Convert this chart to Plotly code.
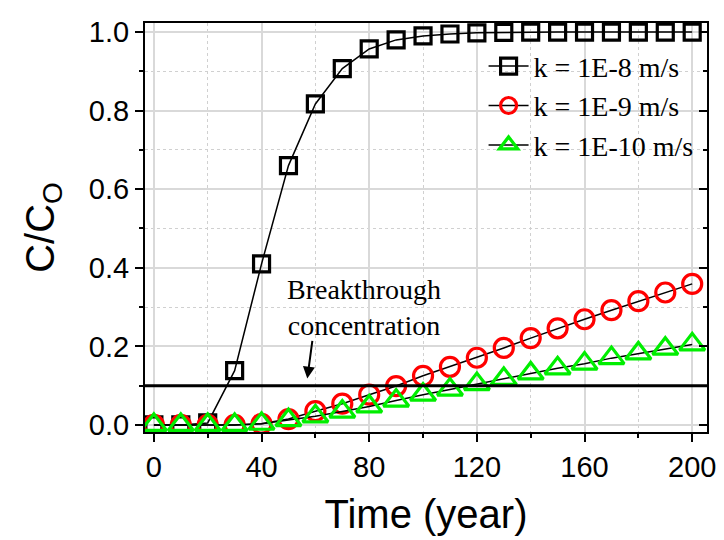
import plotly.graph_objects as go

time = [0, 10, 20, 30, 40, 50, 60, 70, 80, 90, 100, 110, 120, 130, 140, 150, 160, 170, 180, 190, 200]
k1e8 = [0.0, 0.0, 0.005, 0.138, 0.41, 0.66, 0.817, 0.907, 0.957, 0.98, 0.99, 0.995, 0.998, 0.999, 1.0, 1.0, 1.0, 1.0, 1.0, 1.0, 1.0]
k1e9 = [0.0, 0.0, 0.0, 0.0, 0.003, 0.015, 0.035, 0.054, 0.077, 0.099, 0.125, 0.148, 0.171, 0.196, 0.221, 0.246, 0.269, 0.292, 0.315, 0.337, 0.359]
k1e10 = [0.0, 0.0, 0.0, 0.0, 0.003, 0.012, 0.022, 0.034, 0.047, 0.062, 0.077, 0.09, 0.104, 0.117, 0.131, 0.144, 0.156, 0.17, 0.182, 0.194, 0.205]
names = ["k = 1E-8 m/s", "k = 1E-9 m/s", "k = 1E-10 m/s"]
breakthrough = 0.1

fig = go.Figure()
fig.add_trace(go.Scatter(x=time, y=k1e8, mode="lines+markers", name=names[0],
                         line=dict(color="black", width=1.5),
                         marker=dict(symbol="square-open", size=16, color="black", line=dict(width=3.2))))
fig.add_trace(go.Scatter(x=time, y=k1e9, mode="lines+markers", name=names[1],
                         line=dict(color="black", width=1.5),
                         marker=dict(symbol="circle-open", size=19, color="#ff0000", line=dict(width=3.2))))
fig.add_trace(go.Scatter(x=time, y=k1e10, mode="lines+markers", name=names[2],
                         line=dict(color="black", width=1.5),
                         marker=dict(symbol="triangle-up-open", size=22, color="#00ee00", line=dict(width=3.2))))

fig.add_shape(type="line", xref="paper", yref="y", x0=0, x1=1, y0=breakthrough, y1=breakthrough,
              line=dict(color="black", width=3))

fig.add_annotation(x=78, y=0.30, xref="x", yref="y", text="Breakthrough<br>concentration",
                   showarrow=False, font=dict(family="Liberation Serif", size=28, color="black"))
fig.add_annotation(x=57, y=0.118, xref="x", yref="y", ax=59, ay=0.22, axref="x", ayref="y",
                   text=" ", showarrow=True, arrowhead=2, arrowsize=1.2, arrowwidth=2, arrowcolor="black",
                   font=dict(size=2))

fig.add_trace(go.Scatter(x=[0], y=[0], yaxis="y2", showlegend=False, hoverinfo="skip",
                         mode="markers", marker=dict(opacity=0)))

fig.update_layout(
    width=716, height=532,
    margin=dict(l=137, r=15, t=8, b=108),
    plot_bgcolor="white", paper_bgcolor="white",
    font=dict(family="Liberation Sans, Arial", color="black"),
    xaxis=dict(range=[-3.3, 205.5], tickvals=[0, 40, 80, 120, 160, 200], ticks="outside",
               ticklen=8, tickwidth=1.5, tickcolor="black",
               tickfont=dict(size=29), showline=True, linecolor="black", linewidth=2, mirror=True,
               showgrid=True, gridcolor="#d9d9d9", gridwidth=1.5, zeroline=False,
               minor=dict(dtick=20, tick0=0, ticks="outside", ticklen=4, tickcolor="black", tickwidth=1.5,
                          showgrid=True, gridcolor="#d0d0d0", griddash="dot", gridwidth=1),
               title=dict(text="Time (year)", font=dict(size=40), standoff=18)),
    yaxis=dict(range=[-0.018, 1.023], tickvals=[0, 0.2, 0.4, 0.6, 0.8, 1.0], tickformat=".1f",
               ticks="outside", ticklen=8, tickwidth=1.5, tickcolor="black",
               tickfont=dict(size=29), showline=True, linecolor="black", linewidth=2, mirror=True,
               showgrid=True, gridcolor="#d9d9d9", gridwidth=1.5, zeroline=False,
               minor=dict(dtick=0.1, tick0=0, ticks="outside", ticklen=4, tickcolor="black", tickwidth=1.5,
                          showgrid=True, gridcolor="#d0d0d0", griddash="dot", gridwidth=1),
               title=dict(text="C/C<sub>O</sub>", font=dict(size=40), standoff=22)),
    yaxis2=dict(range=[-0.018, 1.023], overlaying="y", side="right", tickvals=[0, 0.2, 0.4, 0.6, 0.8, 1.0],
                ticks="inside", ticklen=8, tickwidth=1.5, tickcolor="black", showticklabels=False,
                showgrid=False, zeroline=False, showline=False,
                minor=dict(dtick=0.1, tick0=0, ticks="inside", ticklen=4, tickcolor="black", tickwidth=1.5)),
    legend=dict(x=0.985, y=0.955, xanchor="right", yanchor="top", bgcolor="rgba(0,0,0,0)",
                font=dict(family="Liberation Serif", size=28, color="black"),
                tracegroupgap=0, itemwidth=40),
    showlegend=True,
)

fig.write_html("out.html")
